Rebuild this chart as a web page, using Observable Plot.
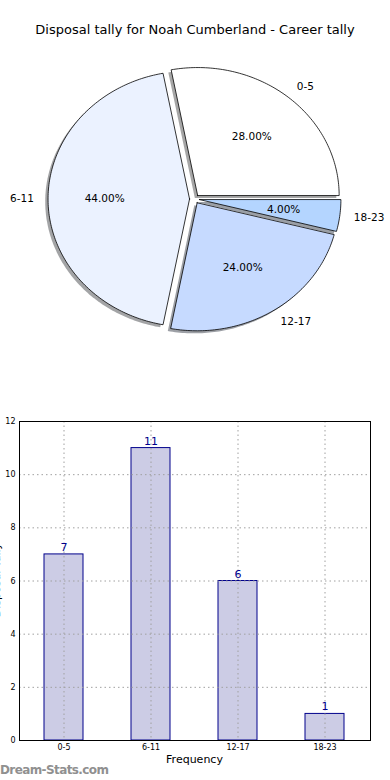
<!DOCTYPE html>
<html>
<head>
<meta charset="utf-8">
<script src="https://cdn.jsdelivr.net/npm/d3@7"></script>
<script src="https://cdn.jsdelivr.net/npm/@observablehq/plot@0.6"></script>
<style>
  html, body { margin: 0; padding: 0; background: #fff; }
  body { width: 390px; height: 780px; position: relative; overflow: hidden; font-family: "DejaVu Sans", sans-serif; }
  .abs { position: absolute; }
  #title { top: 22px; left: 0; width: 390px; text-align: center; font-size: 13px; color: #000; }
  #pie { top: 50px; left: 0; }
  #bar { top: 400px; left: 0; }
  #xlabel { top: 753px; left: 19px; width: 351px; text-align: center; font-size: 11px; }
  #ylabel { top: 580px; left: -4px; transform: translate(-50%, -50%) rotate(-90deg); font-size: 11px; white-space: nowrap; }
  #mark { top: 763px; left: 0; font-size: 12px; color: #909090; font-weight: bold; letter-spacing: -0.6px; }
</style>
</head>
<body>
<div id="title" class="abs">Disposal tally for Noah Cumberland - Career tally</div>
<div id="pie" class="abs"></div>
<div id="bar" class="abs"></div>
<div id="ylabel" class="abs">Disposal Tally</div>
<div id="xlabel" class="abs">Frequency</div>
<div id="mark" class="abs">Dream-Stats.com</div>
<script>
// ---- data ----
const categories = ["0-5", "6-11", "12-17", "18-23"];
const counts = [7, 11, 6, 1];
const sliceColors = ["#ffffff", "#ebf2ff", "#c6daff", "#b4d5ff"];
const yTicks = [0, 2, 4, 6, 8, 10, 12];

// ---- pie (matplotlib style: start at 0°, counter-clockwise, exploded, shadowed) ----
const explode = 0.035;
const total = d3.sum(counts);
let acc = 0;
const slices = categories.map((c, i) => {
  const a0 = acc / total * 2 * Math.PI;
  acc += counts[i];
  const a1 = acc / total * 2 * Math.PI;
  const mid = (a0 + a1) / 2;
  const cx = explode * Math.cos(mid), cy = explode * Math.sin(mid);
  return {cat: c, value: counts[i], a0, a1, mid, cx, cy, color: sliceColors[i]};
});
function polygon(s, dx, dy) {
  const pts = [{x: s.cx + dx, y: s.cy + dy}];
  const n = Math.max(8, Math.ceil((s.a1 - s.a0) / (Math.PI / 180)));
  for (let k = 0; k <= n; k++) {
    const a = s.a0 + (s.a1 - s.a0) * k / n;
    pts.push({x: s.cx + dx + Math.cos(a), y: s.cy + dy + Math.sin(a)});
  }
  pts.push({x: s.cx + dx, y: s.cy + dy});
  return pts;
}
function shadowColor(c) {
  const r = d3.rgb(c);
  return `rgba(${Math.round(r.r*0.3)},${Math.round(r.g*0.3)},${Math.round(r.b*0.3)},0.5)`;
}
const pieMarks = [];
slices.forEach(s => {
  pieMarks.push(Plot.line(polygon(s, -0.02, -0.02), {x: "x", y: "y", fill: shadowColor(s.color), stroke: "none", curve: "linear-closed"}));
});
slices.forEach(s => {
  pieMarks.push(Plot.line(polygon(s, 0, 0), {x: "x", y: "y", fill: s.color, stroke: "#000", strokeWidth: 0.8, curve: "linear-closed"}));
});
pieMarks.push(Plot.text(slices, {
  x: s => s.cx + 0.6 * Math.cos(s.mid), y: s => s.cy + 0.6 * Math.sin(s.mid),
  text: s => (s.value / total * 100).toFixed(2) + "%",
  fontSize: 10.5, fill: "#000", fontFamily: "DejaVu Sans"
}));
const rightLabels = slices.filter(s => Math.cos(s.mid) > 0);
const leftLabels = slices.filter(s => Math.cos(s.mid) <= 0);
[[rightLabels, "start"], [leftLabels, "end"]].forEach(([arr, anchor]) => {
  pieMarks.push(Plot.text(arr, {
    x: s => s.cx + 1.1 * Math.cos(s.mid), y: s => s.cy + 1.1 * Math.sin(s.mid),
    text: "cat", textAnchor: anchor,
    fontSize: 10.5, fill: "#000", fontFamily: "DejaVu Sans"
  }));
});

const pie = Plot.plot({
  width: 390, height: 310, margin: 0,
  x: {domain: [-194 / 141.5, 196 / 141.5], axis: null},
  y: {domain: [-161.5 / 128, 148.5 / 128], axis: null},
  style: {fontFamily: "DejaVu Sans", background: "transparent"},
  marks: pieMarks
});
document.getElementById("pie").appendChild(pie);

// ---- bar chart ----
const barData = categories.map((c, i) => ({cat: c, count: counts[i]}));
const bar = Plot.plot({
  width: 390, height: 380,
  marginTop: 21, marginBottom: 40, marginLeft: 19, marginRight: 20,
  style: {fontFamily: "DejaVu Sans", fontSize: "8px", background: "transparent", color: "#000"},
  x: {domain: categories, paddingInner: 0.55, paddingOuter: 0.275, label: null, tickSize: 0, tickPadding: 4},
  y: {domain: [0, 12], ticks: yTicks, label: null, tickSize: 0, tickPadding: 4},
  marks: [
    Plot.barY(barData, {x: "cat", y: "count", fill: "#ccccE5", stroke: "#00008b", strokeWidth: 1}),
    Plot.ruleY(yTicks, {stroke: "#a0a0a0", strokeDasharray: "1.5,3", strokeWidth: 1}),
    Plot.gridX(categories, {stroke: "#a0a0a0", strokeOpacity: 1, strokeDasharray: "1.5,3", strokeWidth: 1}),
    Plot.text(barData, {x: "cat", y: "count", text: d => String(d.count), dy: -7, fill: "#00008b", fontSize: 11}),
    Plot.frame({stroke: "#000", strokeWidth: 1})
  ]
});
document.getElementById("bar").appendChild(bar);
</script>
</body>
</html>
